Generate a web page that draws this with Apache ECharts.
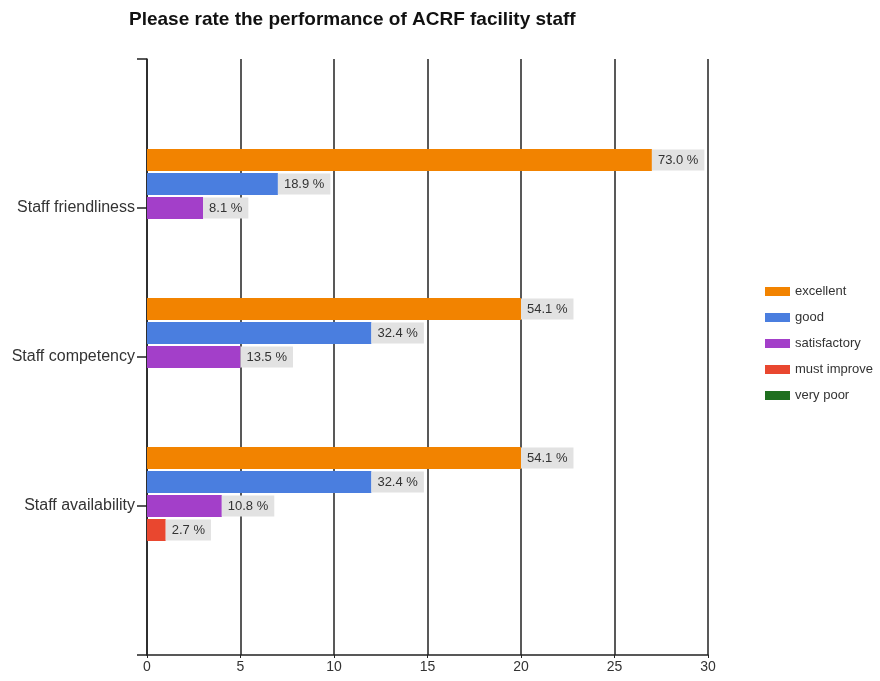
<!DOCTYPE html>
<html>
<head>
<meta charset="utf-8">
<script src="https://cdn.jsdelivr.net/npm/echarts@6/dist/echarts.min.js"></script>
<style>
html,body{margin:0;padding:0;background:#fff;}
#chart{width:880px;height:681px;}
</style>
</head>
<body>
<div id="chart"></div>
<script>
// Categories (top to bottom), with empty padding slots at both ends of the axis
const categories = ['', 'Staff friendliness', 'Staff competency', 'Staff availability', ''];
const ratedItems = ['Staff friendliness', 'Staff competency', 'Staff availability'];
const seriesNames = ['excellent', 'good', 'satisfactory', 'must improve', 'very poor'];
// Response counts
const excellent = [27, 20, 20];
const good = [7, 12, 12];
const satisfactory = [3, 5, 4];
const mustImprove = [null, null, 1];
const veryPoor = [null, null, null];
// Percentage labels
const excellentPct = ['73.0 %', '54.1 %', '54.1 %'];
const goodPct = ['18.9 %', '32.4 %', '32.4 %'];
const satisfactoryPct = ['8.1 %', '13.5 %', '10.8 %'];
const mustImprovePct = ['', '', '2.7 %'];
const veryPoorPct = ['', '', ''];
const xTicks = [0, 5, 10, 15, 20, 25, 30];

const colors = ['#F28300', '#4A7EDF', '#A33FC9', '#E9472F', '#1F6F1F'];
const allValues = [excellent, good, satisfactory, mustImprove, veryPoor];
const allPct = [excellentPct, goodPct, satisfactoryPct, mustImprovePct, veryPoorPct];
const FONT = 'Liberation Sans, Arial, sans-serif';

const chart = echarts.init(document.getElementById('chart'), null, {renderer: 'canvas'});
const series = seriesNames.map((name, si) => ({
  name: name,
  type: 'bar',
  barWidth: 22,
  barGap: '9%',
  itemStyle: {color: colors[si]},
  label: {
    show: true,
    position: 'right',
    distance: 0,
    formatter: p => allPct[si][p.dataIndex] || '',
    backgroundColor: '#E2E2E2',
    color: '#333',
    fontSize: 13,
    fontFamily: FONT,
    padding: [4, 6, 4, 6],
    lineHeight: 13
  },
  data: ratedItems.map((c, i) => [allValues[si][i], c])
}));

chart.setOption({
  animation: false,
  color: colors,
  title: {
    text: 'Please rate the performance of ACRF facility staff',
    left: 129,
    top: 10,
    padding: 0,
    textStyle: {fontSize: 19, fontWeight: 'bold', color: '#111', fontFamily: FONT}
  },
  legend: {
    orient: 'vertical',
    left: 765,
    top: 285,
    padding: 0,
    itemWidth: 25,
    itemHeight: 9,
    itemGap: 13,
    icon: 'rect',
    data: seriesNames,
    textStyle: {fontSize: 13, color: '#333', fontFamily: FONT}
  },
  grid: {left: 147, right: 172, top: 59, bottom: 26, containLabel: false},
  xAxis: {
    type: 'value',
    min: 0,
    max: 30,
    interval: 5,
    axisLine: {show: true, lineStyle: {color: '#222', width: 1.5}},
    axisTick: {show: true, length: 3, lineStyle: {color: '#222'}},
    axisLabel: {color: '#333', fontSize: 14, margin: 5, fontFamily: FONT,
      formatter: v => xTicks.indexOf(v) >= 0 ? String(v) : ''},
    splitLine: {show: true, lineStyle: {color: '#222', width: 1.5}}
  },
  yAxis: {
    type: 'category',
    inverse: true,
    boundaryGap: false,
    data: categories,
    axisLine: {show: true, lineStyle: {color: '#222', width: 1.5}},
    axisTick: {show: true, length: 10, alignWithLabel: true, lineStyle: {color: '#222', width: 1.5}},
    axisLabel: {color: '#333', fontSize: 16, margin: 12, fontFamily: FONT, interval: 0},
    splitLine: {show: false}
  },
  series: series
});
</script>
</body>
</html>
